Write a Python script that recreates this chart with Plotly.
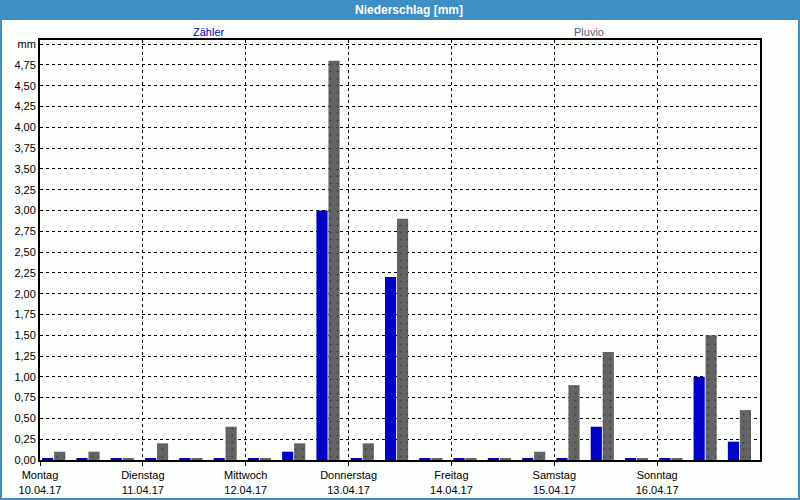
import plotly.graph_objects as go

# 8-hour intervals starting Monday 10.04.17 00:00 (hours since start)
interval_start_h = [0, 8, 16, 24, 32, 40, 48, 56, 64, 72, 80, 88, 96, 104,
                    112, 120, 128, 136, 144, 152, 160]
zaehler = [0.02, 0.02, 0.02, 0.02, 0.02, 0.02, 0.02, 0.1, 3.0, 0.02, 2.2,
           0.02, 0.02, 0.02, 0.02, 0.02, 0.4, 0.02, 0.02, 1.0, 0.22]
pluvio = [0.1, 0.1, 0.02, 0.2, 0.02, 0.4, 0.02, 0.2, 4.8, 0.2, 2.9,
          0.02, 0.02, 0.02, 0.1, 0.9, 1.3, 0.02, 0.02, 1.5, 0.6]

day_ticks_h = [0, 24, 48, 72, 96, 120, 144]
day_names = ["Montag", "Dienstag", "Mittwoch", "Donnerstag", "Freitag", "Samstag", "Sonntag"]
day_dates = ["10.04.17", "11.04.17", "12.04.17", "13.04.17", "14.04.17", "15.04.17", "16.04.17"]

y_ticks = [0.0, 0.25, 0.5, 0.75, 1.0, 1.25, 1.5, 1.75, 2.0, 2.25, 2.5, 2.75,
           3.0, 3.25, 3.5, 3.75, 4.0, 4.25, 4.5, 4.75, 5.0]
y_ticktext = ["0,00", "0,25", "0,50", "0,75", "1,00", "1,25", "1,50", "1,75",
              "2,00", "2,25", "2,50", "2,75", "3,00", "3,25", "3,50", "3,75",
              "4,00", "4,25", "4,50", "4,75", "mm"]

FONT = "Liberation Sans, Arial, sans-serif"
BLUE_BAR = "#0000c8"
GRAY_BAR = "#646464"
FRAME_BLUE = "#3d8fc5"

fig = go.Figure()
fig.add_trace(go.Bar(
    x=interval_start_h, y=zaehler, name="Zähler",
    offset=0.5, width=2.6,
    marker=dict(color=BLUE_BAR, line=dict(width=0)),
))
fig.add_trace(go.Bar(
    x=interval_start_h, y=pluvio, name="Pluvio",
    offset=3.3, width=2.6,
    marker=dict(color=GRAY_BAR, line=dict(width=0),
                pattern=dict(shape=".", fgcolor="#424242", bgcolor=GRAY_BAR,
                             size=7, solidity=0.08, fillmode="replace")),
))

# pixel -> paper helpers (plot area 40..760 x 40..460)
def px(x):
    return (x - 40) / 720.0

def py(y):
    return (460 - y) / 420.0

shapes = [
    dict(type="rect", xref="paper", yref="paper",
         x0=px(0), x1=px(800), y0=py(20), y1=py(0),
         fillcolor=FRAME_BLUE, line=dict(width=0), layer="below"),
    dict(type="rect", xref="paper", yref="paper",
         x0=px(1), x1=px(799), y0=py(499), y1=py(1),
         fillcolor="rgba(0,0,0,0)", line=dict(color=FRAME_BLUE, width=2)),
]

annotations = [
    dict(text="<b>Niederschlag [mm]</b>", xref="paper", yref="paper",
         x=px(409), y=py(10), showarrow=False,
         font=dict(family=FONT, size=12, color="white"),
         xanchor="center", yanchor="middle"),
    dict(text="Zähler", xref="paper", yref="paper",
         x=px(209), y=py(32), showarrow=False,
         font=dict(family=FONT, size=11, color=BLUE_BAR),
         xanchor="center", yanchor="middle"),
    dict(text="Pluvio", xref="paper", yref="paper",
         x=px(589), y=py(32), showarrow=False,
         font=dict(family=FONT, size=11, color="#5c5c78"),
         xanchor="center", yanchor="middle"),
]

fig.update_layout(
    width=800, height=500, autosize=False,
    margin=dict(l=40, r=40, t=40, b=40, autoexpand=False),
    paper_bgcolor="#fcfefc", plot_bgcolor="#fcfefc",
    barmode="overlay",
    showlegend=False,
    shapes=shapes,
    annotations=annotations,
    font=dict(family=FONT, size=11, color="black"),
)

fig.update_xaxes(
    range=[0, 168], automargin=False,
    tickmode="array", tickvals=day_ticks_h,
    ticktext=[f"{n}<br>{d}" for n, d in zip(day_names, day_dates)],
    ticks="outside", ticklen=4, tickcolor="black",
    showgrid=True, gridcolor="black", griddash="3px,3px", gridwidth=1,
    showline=True, mirror=True, linecolor="black", linewidth=2,
    zeroline=False, tickfont=dict(family=FONT, size=11, color="black"),
    layer="above traces",
)
fig.update_yaxes(
    range=[0, 5.05], automargin=False,
    tickmode="array", tickvals=y_ticks, ticktext=y_ticktext,
    ticks="", showgrid=True, gridcolor="black", griddash="3px,3px", gridwidth=1,
    showline=True, mirror=True, linecolor="black", linewidth=2,
    zeroline=False, tickfont=dict(family=FONT, size=11, color="black"),
    layer="above traces",
)

fig.write_html(
    "out.html",
    config={"displayModeBar": False, "responsive": False},
    post_script="document.body.style.margin='0';document.body.style.overflow='hidden';",
)
